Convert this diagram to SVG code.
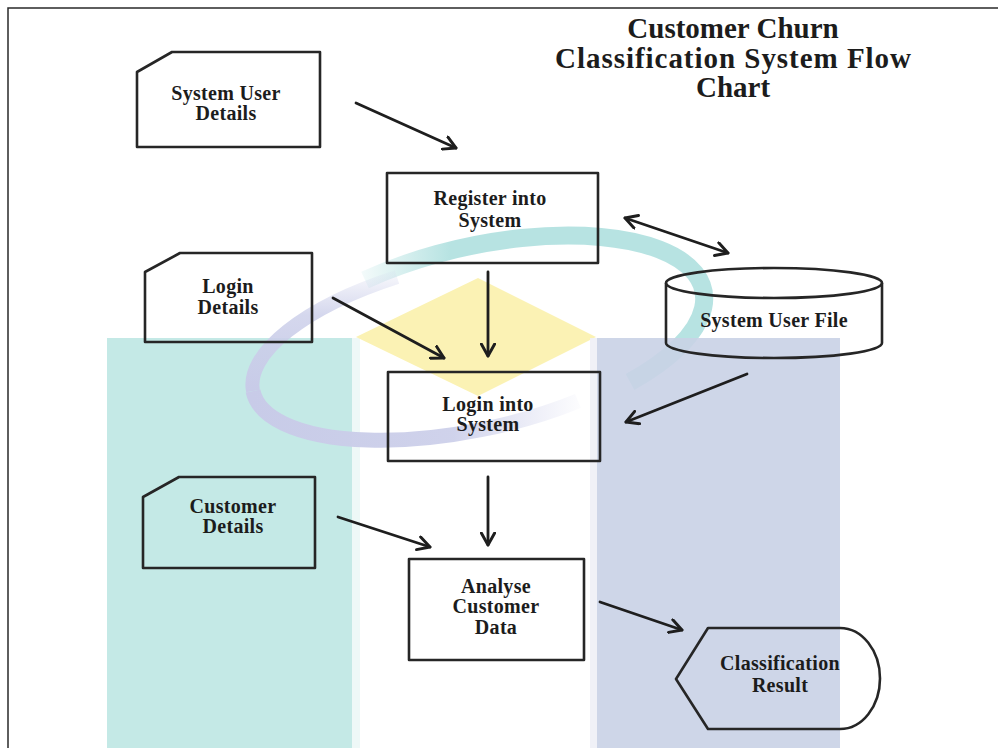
<svg xmlns="http://www.w3.org/2000/svg" width="998" height="748" viewBox="0 0 998 748">
  <style>
    .node { fill: none; stroke: #262626; stroke-width: 2.6; stroke-linejoin: round; }
    .lbl { font-family: "Liberation Serif", "Times New Roman", serif; font-weight: bold; font-size: 20px; letter-spacing: 0.3px; fill: #1c1c1c; text-anchor: middle; }
    .title { font-family: "Liberation Serif", "Times New Roman", serif; font-weight: bold; font-size: 29px; fill: #1c1c1c; text-anchor: middle; }
    .flow { fill: none; stroke: #1e1e1e; stroke-width: 2.8; stroke-linecap: round; }
  </style>
  <defs>
    <marker id="head" viewBox="0 0 12 12" refX="10" refY="6" markerWidth="16" markerHeight="16" markerUnits="userSpaceOnUse" orient="auto-start-reverse">
      <path d="M1,1 L10,6 L1,11" fill="none" stroke="#1e1e1e" stroke-width="2.2" stroke-linecap="round" stroke-linejoin="round"/>
    </marker>
    <linearGradient id="tealFade" gradientUnits="userSpaceOnUse" x1="345" y1="0" x2="450" y2="0">
      <stop offset="0" stop-color="#b7e3e2" stop-opacity="0"/>
      <stop offset="1" stop-color="#b7e3e2" stop-opacity="1"/>
    </linearGradient>
    <linearGradient id="violetUpper" gradientUnits="userSpaceOnUse" x1="0" y1="265" x2="0" y2="390">
      <stop offset="0" stop-color="#cdd0ea" stop-opacity="0"/>
      <stop offset="0.4" stop-color="#cdd0ea" stop-opacity="0.85"/>
      <stop offset="1" stop-color="#c8cbe8" stop-opacity="1"/>
    </linearGradient>
    <linearGradient id="violetLower" gradientUnits="userSpaceOnUse" x1="250" y1="0" x2="590" y2="0">
      <stop offset="0" stop-color="#c8cbe8" stop-opacity="1"/>
      <stop offset="0.6" stop-color="#cdd0ea" stop-opacity="0.95"/>
      <stop offset="1" stop-color="#d6d8ef" stop-opacity="0"/>
    </linearGradient>
  </defs>

  <!-- page frame -->
  <rect width="998" height="748" fill="#ffffff"/>
  <path d="M8,748 L8,8 L998,8" fill="none" stroke="#2a2a2a" stroke-width="1.5"/>

  <!-- background emblem -->
  <g id="emblem">
    <rect x="107" y="338" width="245" height="410" fill="#c4e9e6"/>
    <rect x="352" y="338" width="8" height="410" fill="#eef8f7"/>
    <polygon points="478,278 596,337 478,396 356,337" fill="#fbf2b4"/>
    <!-- teal swoosh, upper right -->
    <path d="M365,280 A222,92 -12 0 1 630,382" fill="none" stroke="url(#tealFade)" stroke-width="18"/>
    <rect x="590" y="338" width="7" height="410" fill="#eef0f6" opacity="0.9"/>
    <rect x="597" y="338" width="243" height="410" fill="#c9d1e5" opacity="0.9"/>
    <!-- violet swoosh, lower left -->
    <path d="M397,277 A222,85 -12 0 0 253,391" fill="none" stroke="url(#violetUpper)" stroke-width="14"/>
    <path d="M253,391 A222,85 -12 0 0 578,401" fill="none" stroke="url(#violetLower)" stroke-width="15"/>
  </g>

  <!-- title -->
  <g id="title">
    <text class="title" x="733" y="38">Customer Churn</text>
    <text class="title" x="733" y="68" textLength="356" lengthAdjust="spacing">Classification System Flow</text>
    <text class="title" x="733" y="97">Chart</text>
  </g>

  <!-- connectors -->
  <g id="connectors">
    <line class="flow" x1="356" y1="103" x2="456" y2="148" marker-end="url(#head)"/>
    <line class="flow" x1="625" y1="218" x2="728" y2="253" marker-start="url(#head)" marker-end="url(#head)"/>
    <line class="flow" x1="488" y1="272" x2="488" y2="356" marker-end="url(#head)"/>
    <line class="flow" x1="333" y1="298" x2="444" y2="358" marker-end="url(#head)"/>
    <line class="flow" x1="747" y1="374" x2="626" y2="422" marker-end="url(#head)"/>
    <line class="flow" x1="488" y1="477" x2="488" y2="545" marker-end="url(#head)"/>
    <line class="flow" x1="338" y1="517" x2="430" y2="547" marker-end="url(#head)"/>
    <line class="flow" x1="600" y1="602" x2="682" y2="630" marker-end="url(#head)"/>
  </g>

  <!-- nodes -->
  <g id="system-user-details">
    <path class="node" d="M137,72 L172,52 L320,52 L320,147 L137,147 Z"/>
    <text class="lbl" x="226" y="100">System User</text>
    <text class="lbl" x="226" y="120">Details</text>
  </g>

  <g id="register">
    <rect class="node" x="387" y="173" width="211" height="90"/>
    <text class="lbl" x="490" y="205">Register into</text>
    <text class="lbl" x="490" y="227">System</text>
  </g>

  <g id="login-details">
    <path class="node" d="M145,272 L180,253 L312,253 L312,342 L145,342 Z"/>
    <text class="lbl" x="228" y="293">Login</text>
    <text class="lbl" x="228" y="314">Details</text>
  </g>

  <g id="system-user-file">
    <path class="node" d="M666,283 L666,343 A108,15 0 0 0 882,343 L882,283"/>
    <ellipse class="node" cx="774" cy="283" rx="108" ry="15"/>
    <text class="lbl" x="774" y="327">System User File</text>
  </g>

  <g id="login">
    <rect class="node" x="388" y="372" width="212" height="89"/>
    <text class="lbl" x="488" y="411">Login into</text>
    <text class="lbl" x="488" y="431">System</text>
  </g>

  <g id="customer-details">
    <path class="node" d="M143,497 L179,477 L315,477 L315,568 L143,568 Z"/>
    <text class="lbl" x="233" y="513">Customer</text>
    <text class="lbl" x="233" y="533">Details</text>
  </g>

  <g id="analyse">
    <rect class="node" x="409" y="559" width="175" height="101"/>
    <text class="lbl" x="496" y="593">Analyse</text>
    <text class="lbl" x="496" y="613">Customer</text>
    <text class="lbl" x="496" y="634">Data</text>
  </g>

  <g id="classification-result">
    <path class="node" d="M676,679 L708,628 L840,628 A40,50.5 0 0 1 840,729 L708,729 Z"/>
    <text class="lbl" x="780" y="670">Classification</text>
    <text class="lbl" x="780" y="692">Result</text>
  </g>
</svg>
